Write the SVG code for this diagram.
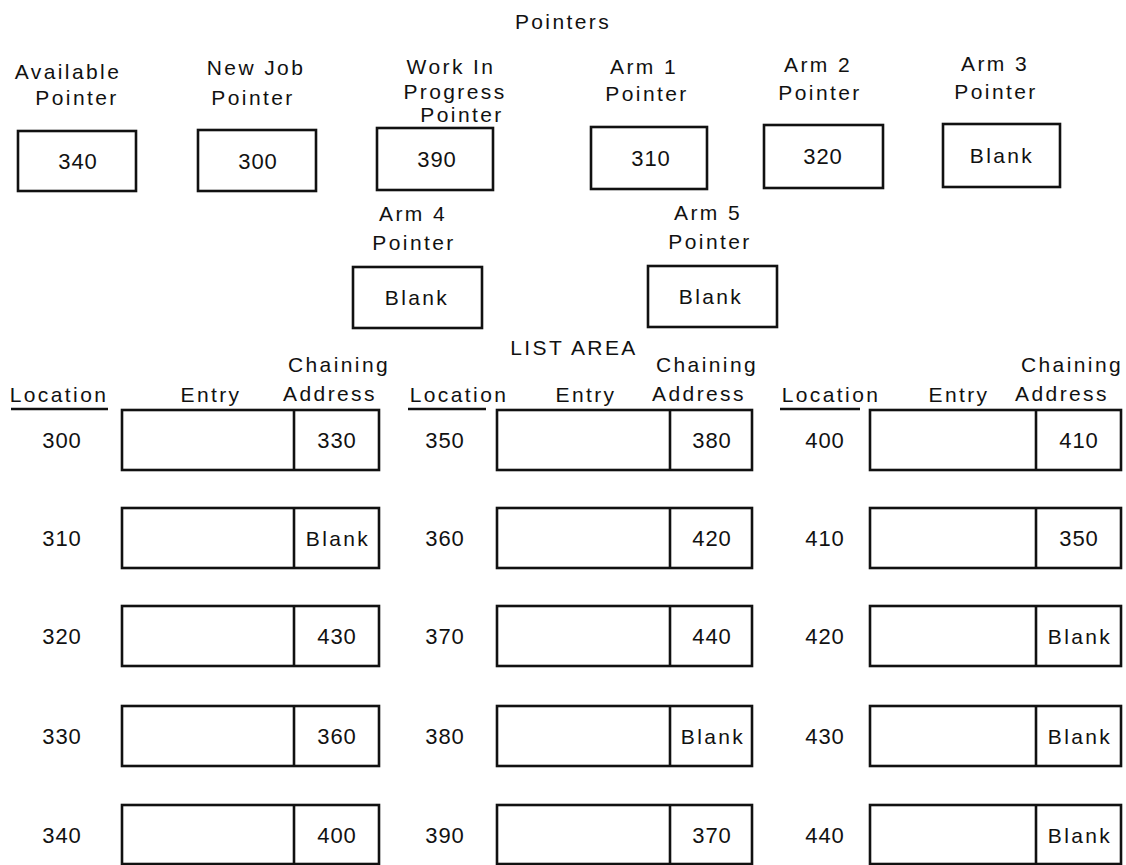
<svg xmlns="http://www.w3.org/2000/svg" width="1126" height="865" viewBox="0 0 1126 865">
<style>
.t{font-family:"Liberation Sans",Arial,sans-serif;font-size:21px;fill:#111;letter-spacing:2.4px;text-anchor:middle}
.n{font-family:"Liberation Sans",Arial,sans-serif;font-size:22px;fill:#111;letter-spacing:1px;text-anchor:middle}
.b{fill:#fff;stroke:#111;stroke-width:2.6}
.l{stroke:#111;stroke-width:2.6;fill:none}
</style>
<rect width="1126" height="865" fill="#fff"/>
<text class="t" x="563" y="29">Pointers</text>
<g id="ptr-available"><text class="t" x="68" y="79">Available</text><text class="t" x="77" y="105">Pointer</text><rect class="b" x="18" y="131" width="118" height="60"/><text class="n" x="78" y="169">340</text></g>
<g id="ptr-newjob"><text class="t" x="256" y="75">New Job</text><text class="t" x="253" y="105">Pointer</text><rect class="b" x="198" y="130" width="118" height="61"/><text class="n" x="258" y="169">300</text></g>
<g id="ptr-wip"><text class="t" x="451" y="74">Work In</text><text class="t" x="455" y="99">Progress</text><text class="t" x="462" y="122">Pointer</text><rect class="b" x="377" y="128" width="116" height="62"/><text class="n" x="437" y="167">390</text></g>
<g id="ptr-arm1"><text class="t" x="644" y="74">Arm 1</text><text class="t" x="647" y="101">Pointer</text><rect class="b" x="591" y="127" width="116" height="62"/><text class="n" x="651" y="166">310</text></g>
<g id="ptr-arm2"><text class="t" x="818" y="72">Arm 2</text><text class="t" x="820" y="100">Pointer</text><rect class="b" x="764" y="125" width="119" height="63"/><text class="n" x="823" y="164">320</text></g>
<g id="ptr-arm3"><text class="t" x="995" y="71">Arm 3</text><text class="t" x="996" y="99">Pointer</text><rect class="b" x="943" y="124" width="117" height="63"/><text class="t" x="1002" y="163">Blank</text></g>
<g id="ptr-arm4"><text class="t" x="413" y="221">Arm 4</text><text class="t" x="414" y="250">Pointer</text><rect class="b" x="353" y="267" width="129" height="61"/><text class="t" x="417" y="305">Blank</text></g>
<g id="ptr-arm5"><text class="t" x="708" y="220">Arm 5</text><text class="t" x="710" y="249">Pointer</text><rect class="b" x="648" y="266" width="129" height="61"/><text class="t" x="711" y="304">Blank</text></g>
<text class="t" x="574" y="355">LIST AREA</text>
<g id="hdr-1"><text class="t" x="59" y="402">Location</text><line class="l" x1="11" y1="409" x2="108" y2="409"/><text class="t" x="211" y="402">Entry</text><text class="t" x="339" y="372">Chaining</text><text class="t" x="330" y="401">Address</text></g>
<g id="hdr-2"><text class="t" x="459" y="402">Location</text><line class="l" x1="408" y1="409" x2="486" y2="409"/><text class="t" x="586" y="402">Entry</text><text class="t" x="707" y="372">Chaining</text><text class="t" x="699" y="401">Address</text></g>
<g id="hdr-3"><text class="t" x="831" y="402">Location</text><line class="l" x1="780" y1="409" x2="860" y2="409"/><text class="t" x="959" y="402">Entry</text><text class="t" x="1072" y="372">Chaining</text><text class="t" x="1062" y="401">Address</text></g>
<g id="loc-300"><text class="n" x="62" y="448">300</text><rect class="b" x="122" y="410" width="257" height="60"/><line class="l" x1="294" y1="410" x2="294" y2="470"/><text class="n" x="337" y="448">330</text></g>
<g id="loc-310"><text class="n" x="62" y="546">310</text><rect class="b" x="122" y="508" width="257" height="60"/><line class="l" x1="294" y1="508" x2="294" y2="568"/><text class="t" x="338" y="546">Blank</text></g>
<g id="loc-320"><text class="n" x="62" y="644">320</text><rect class="b" x="122" y="606" width="257" height="60"/><line class="l" x1="294" y1="606" x2="294" y2="666"/><text class="n" x="337" y="644">430</text></g>
<g id="loc-330"><text class="n" x="62" y="744">330</text><rect class="b" x="122" y="706" width="257" height="60"/><line class="l" x1="294" y1="706" x2="294" y2="766"/><text class="n" x="337" y="744">360</text></g>
<g id="loc-340"><text class="n" x="62" y="843">340</text><rect class="b" x="122" y="805" width="257" height="59"/><line class="l" x1="294" y1="805" x2="294" y2="864"/><text class="n" x="337" y="843">400</text></g>
<g id="loc-350"><text class="n" x="445" y="448">350</text><rect class="b" x="497" y="410" width="255" height="60"/><line class="l" x1="670" y1="410" x2="670" y2="470"/><text class="n" x="712" y="448">380</text></g>
<g id="loc-360"><text class="n" x="445" y="546">360</text><rect class="b" x="497" y="508" width="255" height="60"/><line class="l" x1="670" y1="508" x2="670" y2="568"/><text class="n" x="712" y="546">420</text></g>
<g id="loc-370"><text class="n" x="445" y="644">370</text><rect class="b" x="497" y="606" width="255" height="60"/><line class="l" x1="670" y1="606" x2="670" y2="666"/><text class="n" x="712" y="644">440</text></g>
<g id="loc-380"><text class="n" x="445" y="744">380</text><rect class="b" x="497" y="706" width="255" height="60"/><line class="l" x1="670" y1="706" x2="670" y2="766"/><text class="t" x="713" y="744">Blank</text></g>
<g id="loc-390"><text class="n" x="445" y="843">390</text><rect class="b" x="497" y="805" width="255" height="59"/><line class="l" x1="670" y1="805" x2="670" y2="864"/><text class="n" x="712" y="843">370</text></g>
<g id="loc-400"><text class="n" x="825" y="448">400</text><rect class="b" x="870" y="410" width="251" height="60"/><line class="l" x1="1036" y1="410" x2="1036" y2="470"/><text class="n" x="1079" y="448">410</text></g>
<g id="loc-410"><text class="n" x="825" y="546">410</text><rect class="b" x="870" y="508" width="251" height="60"/><line class="l" x1="1036" y1="508" x2="1036" y2="568"/><text class="n" x="1079" y="546">350</text></g>
<g id="loc-420"><text class="n" x="825" y="644">420</text><rect class="b" x="870" y="606" width="251" height="60"/><line class="l" x1="1036" y1="606" x2="1036" y2="666"/><text class="t" x="1080" y="644">Blank</text></g>
<g id="loc-430"><text class="n" x="825" y="744">430</text><rect class="b" x="870" y="706" width="251" height="60"/><line class="l" x1="1036" y1="706" x2="1036" y2="766"/><text class="t" x="1080" y="744">Blank</text></g>
<g id="loc-440"><text class="n" x="825" y="843">440</text><rect class="b" x="870" y="805" width="251" height="59"/><line class="l" x1="1036" y1="805" x2="1036" y2="864"/><text class="t" x="1080" y="843">Blank</text></g>
<g id="connectors"/>
</svg>
